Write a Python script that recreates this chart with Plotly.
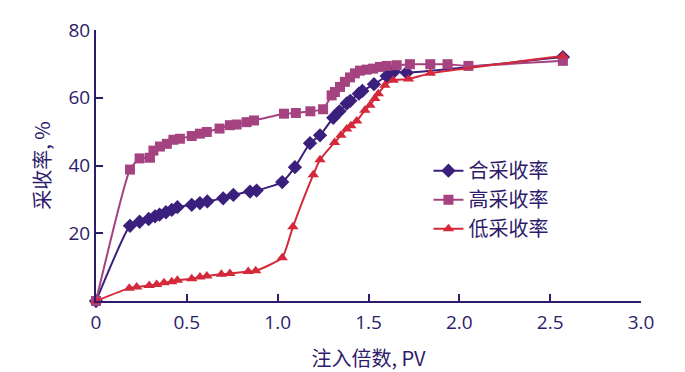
import plotly.graph_objects as go

# 合采收率 (blue diamonds)
he_x = [0, 0.187, 0.24, 0.29, 0.325, 0.35, 0.385, 0.417, 0.448, 0.527, 0.572, 0.613, 0.70, 0.756,
        0.848, 0.884, 1.025, 1.095, 1.178, 1.233, 1.306, 1.34, 1.38, 1.40, 1.447, 1.466, 1.53,
        1.60, 1.64, 1.71, 2.57]
he_y = [0, 22.2, 23.4, 24.2, 25.0, 25.5, 26.2, 26.9, 27.7, 28.4, 28.9, 29.4, 30.3, 31.3,
        32.3, 32.6, 35.1, 39.5, 46.6, 48.9, 54.1, 56.0, 58.3, 59.1, 61.2, 62.0, 64.0,
        66.4, 67.7, 67.4, 72.0]

# 高采收率 (pink squares)
gao_x = [0, 0.187, 0.24, 0.297, 0.316, 0.352, 0.39, 0.426, 0.462, 0.527, 0.572, 0.61, 0.68,
         0.737, 0.774, 0.829, 0.87, 1.035, 1.10, 1.18, 1.25, 1.297, 1.315, 1.343, 1.37, 1.398,
         1.425, 1.453, 1.49, 1.526, 1.563, 1.60, 1.655, 1.728, 1.84, 1.935, 2.05, 2.57]
gao_y = [0, 38.8, 42.1, 42.3, 44.4, 45.6, 46.4, 47.6, 47.9, 48.7, 49.4, 49.9, 50.9,
         51.9, 52.1, 52.8, 53.3, 55.3, 55.5, 56.0, 56.6, 60.7, 61.7, 63.2, 64.7, 66.0,
         67.2, 68.0, 68.3, 68.6, 69.1, 69.4, 69.6, 69.9, 69.9, 69.9, 69.4, 70.9]

# 低采收率 (red triangles)
di_x = [0, 0.183, 0.224, 0.293, 0.334, 0.374, 0.417, 0.448, 0.527, 0.572, 0.61, 0.69, 0.737,
        0.838, 0.879, 1.025, 1.084, 1.196, 1.233, 1.313, 1.348, 1.38, 1.403, 1.435, 1.48,
        1.508, 1.535, 1.554, 1.59, 1.636, 1.72, 1.84, 2.57]
di_y = [0, 3.8, 4.1, 4.6, 4.9, 5.4, 5.7, 6.1, 6.6, 7.1, 7.4, 7.9, 8.1,
        8.7, 8.9, 12.8, 21.9, 37.3, 41.7, 46.8, 48.9, 50.8, 51.7, 53.1, 56.3,
        57.8, 59.8, 61.2, 63.7, 65.2, 65.5, 67.2, 72.3]

x_tickvals = [0, 0.5, 1.0, 1.5, 2.0, 2.5, 3.0]
x_ticktext = ["0", "0.5", "1.0", "1.5", "2.0", "2.5", "3.0"]
y_tickvals = [20, 40, 60, 80]
y_ticktext = ["20", "40", "60", "80"]

NAVY = "#2e1b6b"
BLUE = "#3a1f7c"
PINK = "#a4437f"
RED = "#d3293a"
CJK = "Noto Sans CJK SC"

fig = go.Figure()
fig.add_trace(go.Scatter(
    x=he_x, y=he_y, name="合采收率", mode="lines+markers",
    line=dict(color=BLUE, width=2, shape="spline", smoothing=0.5),
    marker=dict(symbol="diamond", size=11, color=BLUE), cliponaxis=False))
fig.add_trace(go.Scatter(
    x=gao_x, y=gao_y, name="高采收率", mode="lines+markers",
    line=dict(color=PINK, width=2, shape="spline", smoothing=0.5),
    marker=dict(symbol="square", size=10, color=PINK), cliponaxis=False))
fig.add_trace(go.Scatter(
    x=di_x, y=di_y, name="低采收率", mode="lines+markers",
    line=dict(color=RED, width=2, shape="spline", smoothing=0.5),
    marker=dict(symbol="triangle-up", size=10, color=RED), cliponaxis=False))

fig.update_layout(
    width=677, height=364,
    margin=dict(l=88, r=44, t=22, b=71),
    paper_bgcolor="white", plot_bgcolor="white",
    font=dict(family="Open Sans", color=NAVY, size=19),
    showlegend=True,
    legend=dict(x=0.61, y=0.553, xanchor="left", yanchor="top",
                bgcolor="rgba(0,0,0,0)", font=dict(family=CJK, size=20, color=NAVY),
                tracegroupgap=0, itemwidth=30),
    xaxis=dict(range=[0, 3], tickvals=x_tickvals, ticktext=x_ticktext, automargin=False,
               showgrid=False, zeroline=False, showline=True, linecolor=NAVY, linewidth=2,
               ticks="inside", ticklen=7, tickwidth=2, tickcolor=NAVY, ticklabelstandoff=3,
               tickfont=dict(family="Open Sans", size=19, color=NAVY),
               title=dict(text="注入倍数, PV", font=dict(family=CJK, size=20, color=NAVY), standoff=24)),
    yaxis=dict(range=[0, 80], tickvals=y_tickvals, ticktext=y_ticktext, automargin=False,
               showgrid=False, zeroline=False, showline=True, linecolor=NAVY, linewidth=2,
               ticks="inside", ticklen=7, tickwidth=2, tickcolor=NAVY,
               tickfont=dict(family="Open Sans", size=19, color=NAVY),
               title=dict(text="采收率, %", font=dict(family=CJK, size=20, color=NAVY), standoff=12)),
)

fig.write_html("out.html")
